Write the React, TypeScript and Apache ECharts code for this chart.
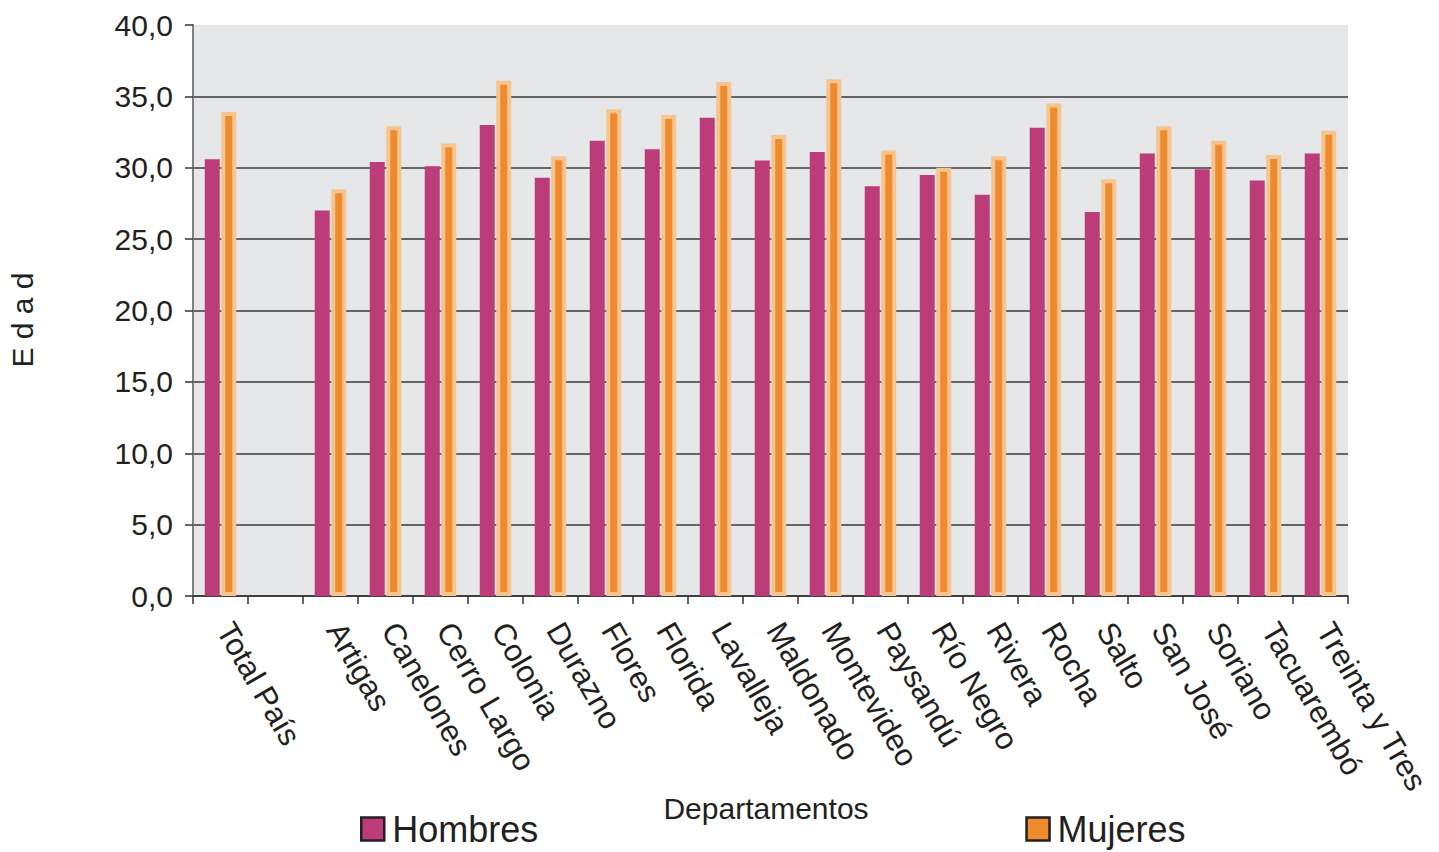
import React, { useEffect, useRef } from "react";
import * as echarts from "echarts";

const categories = [
  "Total País", "", "Artigas", "Canelones", "Cerro Largo", "Colonia", "Durazno",
  "Flores", "Florida", "Lavalleja", "Maldonado", "Montevideo", "Paysandú",
  "Río Negro", "Rivera", "Rocha", "Salto", "San José", "Soriano",
  "Tacuarembó", "Treinta y Tres",
];
const hombres = [30.6, null, 27.0, 30.4, 30.1, 33.0, 29.3, 31.9, 31.3, 33.5, 30.5, 31.1, 28.7, 29.5, 28.1, 32.8, 26.9, 31.0, 29.9, 29.1, 31.0];
const mujeres = [33.9, null, 28.5, 32.9, 31.7, 36.1, 30.8, 34.1, 33.7, 36.0, 32.3, 36.2, 31.2, 30.0, 30.8, 34.5, 29.2, 32.9, 31.9, 30.9, 32.6];
const seriesNames = ["Hombres", "Mujeres"];
const yAxisTitle = "E d a d";
const xAxisTitle = "Departamentos";

const FONT = "'Liberation Sans', Arial, Helvetica, sans-serif";
const TEXT = "#231f20";

export default function App() {
  const ref = useRef<HTMLDivElement>(null);
  useEffect(() => {
    if (!ref.current) return;
    const chart = echarts.init(ref.current, null, { renderer: "svg" });
    chart.setOption({
      animation: false,
      textStyle: { fontFamily: FONT },
      grid: {
        left: 193, right: 91, top: 25, bottom: 256,
        show: true, backgroundColor: "#E6E7E9", borderWidth: 0,
      },
      legend: {
        data: seriesNames,
        left: 360, top: 811, padding: 0,
        itemWidth: 23, itemHeight: 23, itemGap: 487,
        icon: "rect",
        itemStyle: { borderColor: TEXT, borderWidth: 2.5 },
        textStyle: { fontSize: 36, color: TEXT, fontFamily: FONT, padding: [0, 0, 0, 3] },
      },
      xAxis: {
        type: "category",
        data: categories,
        axisLine: { show: true, lineStyle: { color: "#333", width: 1.5 } },
        axisTick: { show: true, length: 8, lineStyle: { color: "#333", width: 1.5 } },
        axisLabel: {
          interval: 0, rotate: -60, margin: 22, padding: [0, 0, 0, 8],
          fontSize: 31, color: TEXT, fontFamily: FONT,
        },
      },
      yAxis: {
        type: "value",
        min: 0, max: 40, interval: 5,
        axisLine: { show: true, lineStyle: { color: "#808080", width: 2 } },
        axisTick: { show: true, length: 8, lineStyle: { color: "#333", width: 1.5 } },
        axisLabel: {
          margin: 20, fontSize: 30, color: TEXT, fontFamily: FONT,
          formatter: (v: number) => v.toFixed(1).replace(".", ","),
        },
        splitLine: { show: true, showMaxLine: false, lineStyle: { color: "#3a3a3a", width: 1.5 } },
      },
      series: [
        {
          name: seriesNames[0], type: "bar", data: hombres,
          barWidth: 15, barGap: "10%",
          itemStyle: { color: "#BC3C7A" },
        },
        {
          name: seriesNames[1], type: "bar", data: mujeres,
          barWidth: 15, barGap: "10%",
          itemStyle: { color: "#EF8B2F", borderColor: "#F6C48F", borderWidth: 4 },
        },
      ],
      graphic: [
        {
          type: "text", x: 22, y: 320, rotation: Math.PI / 2,
          style: {
            text: yAxisTitle, fontSize: 30, fill: TEXT, fontFamily: FONT,
            textAlign: "center", textVerticalAlign: "middle",
          },
        },
        {
          type: "text", x: 766, y: 808,
          style: {
            text: xAxisTitle, fontSize: 30, fill: TEXT, fontFamily: FONT,
            textAlign: "center", textVerticalAlign: "middle",
          },
        },
      ],
    });
    return () => chart.dispose();
  }, []);
  return (
    <div
      ref={ref}
      style={{ position: "fixed", left: 0, top: 0, width: 1439, height: 852, background: "#fff" }}
    />
  );
}
